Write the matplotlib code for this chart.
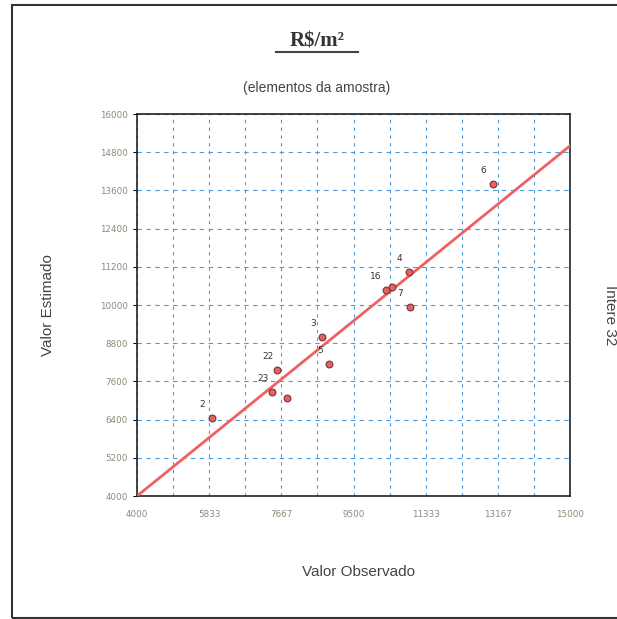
import numpy as np
import matplotlib
matplotlib.use("Agg")
import matplotlib.pyplot as plt
from matplotlib.lines import Line2D
from matplotlib.patches import Rectangle

# data
obs = [5910, 7565, 7437, 7819, 8710, 8888, 10314, 10467, 10900, 10925, 13038]
est = [6450, 7958, 7267, 7078, 8994, 8146, 10470, 10565, 11036, 9936, 13800]
labels = ["2", "22", "23", "", "3", "5", "16", "", "4", "7", "6"]

x_min, x_max = 4000, 15000
y_min, y_max = 4000, 16000
x_ticks = np.linspace(x_min, x_max, 7)
x_grid = np.linspace(x_min, x_max, 13)
y_ticks = np.linspace(y_min, y_max, 11)

fig = plt.figure(figsize=(6.17, 6.19), dpi=100)
fig.patch.set_facecolor("white")

# outer frame
fig.add_artist(Rectangle((12/617, 1/619), 1.2, 1 - 6/619, transform=fig.transFigure,
                         fill=False, edgecolor="#333333", lw=1.5))

ax = fig.add_axes([137/617, 1 - 496/619, 433/617, 382/619])
ax.set_xlim(x_min, x_max)
ax.set_ylim(y_min, y_max)

ax.set_xticks(x_ticks)
ax.set_xticks(x_grid, minor=True)
ax.set_yticks(y_ticks)
ax.set_xticklabels([f"{v:.0f}" for v in x_ticks])
ax.set_yticklabels([f"{v:.0f}" for v in y_ticks])
ax.tick_params(axis="both", labelsize=6.3, labelcolor="#8a8a78", length=3, width=0.8)
ax.tick_params(axis="x", which="both", length=0, pad=10)
ax.grid(True, which="both", axis="x", color="#4a9be0", linestyle=(0, (3, 4)), lw=0.8)
ax.grid(True, which="major", axis="y", color="#4a9be0", linestyle=(0, (4, 4)), lw=0.8)
ax.set_axisbelow(True)
for s in ax.spines.values():
    s.set_color("#222222")
    s.set_linewidth(1.2)

# reference line y = x
ax.plot([x_min, x_max], [x_min, x_max], color="#f06060", lw=2, zorder=3)

ax.scatter(obs, est, s=24, color="#ea5f62", edgecolors="#6a3a3a", linewidths=0.8, zorder=4)
for xo, ye, lab in zip(obs, est, labels):
    if lab:
        ax.annotate(lab, (xo, ye), xytext=(-7, 8), textcoords="offset points",
                    fontsize=6.5, color="#333333", ha="center")

# titles and labels
fig.text(317/617, 1 - 42/619, "R$/m²", family="Liberation Serif", weight="bold",
         fontsize=15, color="#333333", ha="center", va="center")
fig.add_artist(Line2D([276/617, 358/617], [1 - 52/619, 1 - 52/619],
                      transform=fig.transFigure, color="#444444", lw=1.5))
fig.text(317/617, 1 - 88/619, "(elementos da amostra)", family="Liberation Sans",
         fontsize=10, color="#444444", ha="center", va="center")
fig.text(358/617, 1 - 572/619, "Valor Observado", family="Liberation Sans",
         fontsize=11, color="#444444", ha="center", va="center")
fig.text(48/617, 1 - 305/619, "Valor Estimado", family="Liberation Sans",
         fontsize=11, color="#444444", ha="center", va="center", rotation=90)
fig.text(610/617, 1 - 315/619, "Intere 32", family="Liberation Sans",
         fontsize=11, color="#444444", ha="center", va="center", rotation=270)

fig.savefig("out.png", dpi=100, facecolor="white")
